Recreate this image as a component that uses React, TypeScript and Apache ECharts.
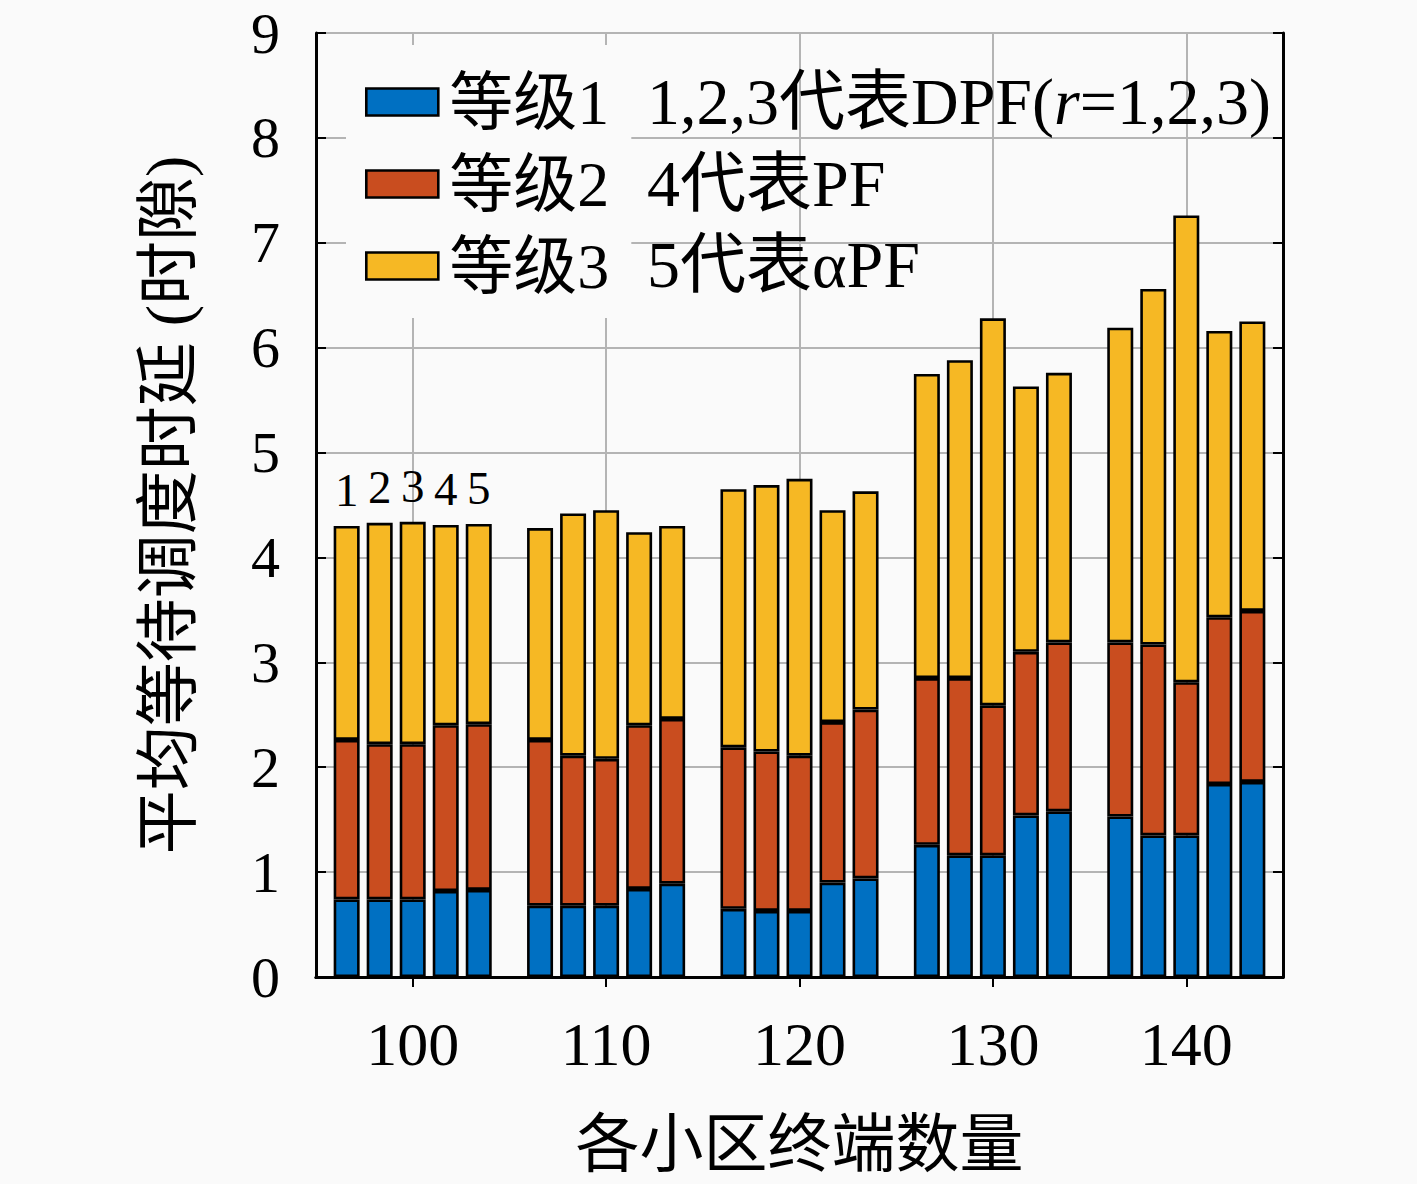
import React, { useEffect, useRef } from "react";
import * as echarts from "echarts";

const categories = ["100", "110", "120", "130", "140"];
const algorithmLabels = ["1", "2", "3", "4", "5"];
const legendNames = ["等级1", "等级2", "等级3"];
const legendNotes = [
  "{t|1,2,3代表DPF(}{i|r}{t|=1,2,3)}",
  "{t|4代表PF}",
  "{t|5代表αPF}",
];

// values per algorithm (1..5), across the five categories
const grade1 = [
  [0.74, 0.68, 0.65, 1.26, 1.53],
  [0.74, 0.68, 0.63, 1.16, 1.35],
  [0.74, 0.68, 0.63, 1.16, 1.35],
  [0.82, 0.84, 0.9, 1.54, 1.84],
  [0.83, 0.89, 0.94, 1.58, 1.86],
];
const grade2 = [
  [1.52, 1.58, 1.54, 1.59, 1.66],
  [1.48, 1.43, 1.52, 1.69, 1.82],
  [1.48, 1.4, 1.48, 1.43, 1.46],
  [1.58, 1.56, 1.53, 1.56, 1.59],
  [1.58, 1.57, 1.61, 1.61, 1.63],
];
const grade3 = [
  [2.04, 2.02, 2.46, 2.9, 3.0],
  [2.11, 2.31, 2.54, 3.03, 3.39],
  [2.12, 2.37, 2.64, 3.69, 4.45],
  [1.91, 1.84, 2.02, 2.53, 2.73],
  [1.91, 1.84, 2.08, 2.57, 2.76],
];
const yTicks = [0, 9, 1];

const colors = ["#0070C2", "#C94D1F", "#F6B824"];
const serif = "'Liberation Serif', 'Noto Sans CJK SC', serif";

export default function App() {
  const ref = useRef<HTMLDivElement>(null);
  useEffect(() => {
    document.body.style.margin = "0";
    const chart = echarts.init(ref.current!, null, { renderer: "svg" });
    const grades = [grade1, grade2, grade3];
    const series: any[] = [];
    for (let k = 0; k < 5; k++) {
      for (let j = 0; j < 3; j++) {
        series.push({
          type: "bar",
          name: legendNames[j],
          stack: "s" + k,
          barWidth: 26,
          barGap: "27%",
          itemStyle: { color: colors[j], borderColor: "#000", borderWidth: 2.6 },
          data: grades[j][k].map((v, i) =>
            j === 2 && i === 0
              ? {
                  value: v,
                  label: {
                    show: true,
                    position: "top",
                    distance: 12,
                    formatter: algorithmLabels[k],
                    fontSize: 47,
                    fontFamily: serif,
                    color: "#000",
                  },
                }
              : v
          ),
        });
      }
    }
    const rowY = [101, 183, 264];
    chart.setOption({
      animation: false,
      backgroundColor: "#fafafa",
      grid: { left: 316, top: 33, width: 967, height: 944, containLabel: false },
      legend: {
        data: legendNames,
        orient: "vertical",
        left: 346,
        top: 45,
        padding: [25, 22, 20, 19],
        backgroundColor: "#fafafa",
        itemWidth: 72,
        itemHeight: 27,
        itemGap: 18,
        icon: "rect",
        itemStyle: { borderColor: "#000", borderWidth: 2.6 },
        textStyle: {
          fontSize: 64,
          lineHeight: 64,
          fontFamily: serif,
          color: "#000",
          padding: [0, 0, 0, 6],
        },
      },
      graphic: legendNotes.map((t, i) => ({
        type: "text",
        x: 647,
        y: rowY[i],
        z: 100,
        style: {
          text: t,
          verticalAlign: "middle",
          fill: "#000",
          rich: {
            t: { fontSize: 66, fontFamily: serif, fill: "#000" },
            i: { fontSize: 66, fontFamily: serif, fontStyle: "italic", fill: "#000" },
          },
        },
      })),
      xAxis: [
        {
          type: "category",
          data: categories,
          position: "bottom",
          name: "各小区终端数量",
          nameLocation: "middle",
          nameGap: 135,
          nameTextStyle: { fontSize: 64, fontFamily: serif, color: "#000" },
          axisLine: { show: true, lineStyle: { color: "#000", width: 3 } },
          axisTick: { show: true, inside: true, alignWithLabel: true, length: 10, lineStyle: { color: "#000", width: 2 } },
          axisLabel: { fontSize: 62, fontFamily: serif, color: "#000", margin: 36 },
          splitLine: { show: true, alignWithLabel: true, lineStyle: { color: "#b4b4b4", width: 2 } },
        },
        {
          type: "category",
          data: categories,
          position: "top",
          axisLine: { show: true, lineStyle: { color: "#000", width: 3 } },
          axisTick: { show: true, inside: true, alignWithLabel: true, length: 10, lineStyle: { color: "#000", width: 2 } },
          axisLabel: { show: false },
          splitLine: { show: false },
        },
      ],
      yAxis: [
        {
          type: "value",
          min: yTicks[0],
          max: yTicks[1],
          interval: yTicks[2],
          name: "平均等待调度时延 (时隙)",
          nameLocation: "middle",
          nameGap: 116,
          nameTextStyle: { fontSize: 64, fontFamily: serif, color: "#000" },
          axisLine: { show: true, lineStyle: { color: "#000", width: 3 } },
          axisTick: { show: true, inside: true, length: 10, lineStyle: { color: "#000", width: 2 } },
          axisLabel: { fontSize: 58, fontFamily: serif, color: "#000", margin: 36 },
          splitLine: { show: true, lineStyle: { color: "#b4b4b4", width: 2 } },
        },
        {
          type: "value",
          position: "right",
          min: yTicks[0],
          max: yTicks[1],
          interval: yTicks[2],
          axisLine: { show: true, lineStyle: { color: "#000", width: 3 } },
          axisTick: { show: true, inside: true, length: 10, lineStyle: { color: "#000", width: 2 } },
          axisLabel: { show: false },
          splitLine: { show: false },
        },
      ],
      series,
    });
    return () => chart.dispose();
  }, []);
  return (
    <div
      ref={ref}
      style={{ position: "fixed", left: 0, top: 0, width: 1417, height: 1184 }}
    />
  );
}
